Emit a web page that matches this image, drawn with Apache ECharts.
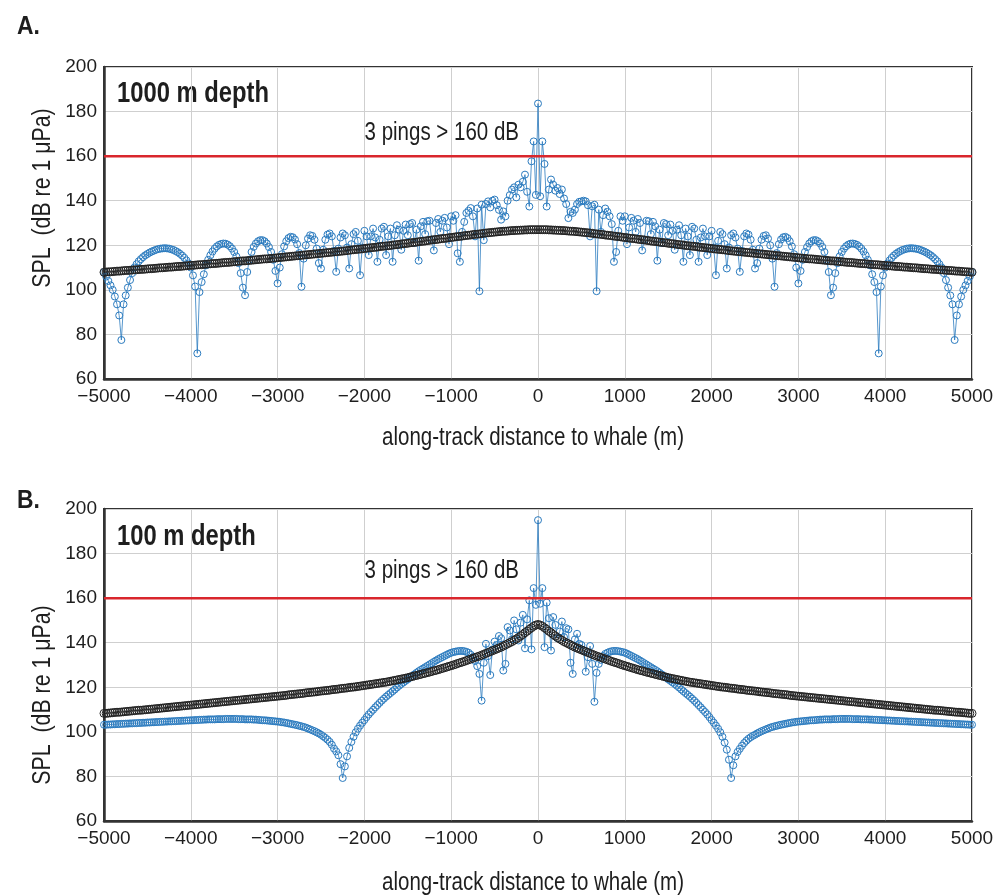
<!DOCTYPE html>
<html>
<head>
<meta charset="utf-8">
<script src="https://cdn.jsdelivr.net/npm/echarts@6/dist/echarts.min.js"></script>
<style>
  html, body { margin: 0; padding: 0; background: #ffffff; }
  #chart { width: 1005px; height: 896px; }
</style>
</head>
<body>
<div id="chart"></div>
<script>
// Along-track ping positions (m): one ping every 25 m from -5000 to 5000
const PING_SPACING = 25;
const distance = [];
for (let i = 0; i <= 400; i++) distance.push(-5000 + PING_SPACING * i);

// Panel A: whale at 1000 m depth — received SPL per ping (dB re 1 uPa)
const splA_blue = [
  108.0,106.0,104.0,102.0,100.0,97.0,93.5,88.5,77.5,93.5,97.5,101.0,104.4,107.5,110.0,111.5,112.8,113.8,114.7,115.5,
  116.1,116.7,117.2,117.6,118.0,118.3,118.5,118.6,118.7,118.6,118.5,118.2,117.9,117.4,116.9,116.2,115.4,114.4,113.2,111.8,
  110.0,106.5,101.5,71.5,99.0,103.5,107.0,111.0,113.5,115.5,117.2,118.5,119.5,120.2,120.6,120.8,120.7,120.3,119.6,118.5,
  117.0,115.0,112.0,107.5,101.0,97.6,108.0,113.5,117.0,119.3,120.8,121.8,122.3,122.3,121.8,120.8,119.2,117.0,113.5,108.5,
  102.9,110.0,116.0,119.5,121.8,123.2,123.8,123.6,122.6,120.5,116.5,101.4,114.0,120.0,123.0,124.5,124.2,122.5,118.5,112.0,
  109.6,118.0,122.5,124.8,125.3,124.0,117.5,108.1,118.5,123.5,125.3,124.5,119.0,109.6,120.5,125.0,126.0,122.0,106.6,119.0,
  126.5,124.0,115.6,124.0,127.5,123.5,112.6,122.5,127.5,128.3,115.6,124.0,127.5,112.6,124.5,129.0,127.0,118.0,126.5,129.3,
  124.5,129.5,130.0,121.0,127.0,113.1,128.5,130.5,125.0,130.8,131.0,122.5,117.7,130.0,131.8,126.0,131.0,132.3,128.0,120.5,
  133.0,131.0,133.5,116.4,112.6,126.0,130.5,134.5,135.5,136.7,133.0,124.0,136.5,99.4,138.2,122.3,138.5,139.7,137.0,140.0,
  140.5,138.0,135.9,131.5,135.2,133.0,140.0,142.5,145.0,146.0,141.5,147.2,146.0,148.5,151.7,144.0,137.4,157.7,166.6,142.6,
  183.6,
  142.0,166.6,156.5,137.4,145.0,149.5,147.2,144.5,145.7,143.0,145.0,141.0,138.5,132.2,135.0,134.5,136.0,138.5,139.5,139.7,
  140.0,139.7,138.0,124.0,137.5,138.2,99.4,136.0,126.0,133.5,136.5,135.0,133.0,129.5,112.6,117.0,126.5,133.0,131.0,133.0,
  120.5,128.0,132.3,131.0,126.0,131.8,130.0,117.7,122.5,131.0,130.8,125.0,130.5,128.5,113.1,127.0,121.0,130.0,129.5,124.5,
  129.3,126.5,118.0,127.0,129.0,124.5,112.6,127.5,124.0,115.6,128.3,127.5,122.5,112.6,123.5,127.5,124.0,115.6,124.0,126.5,
  119.0,106.6,122.0,126.0,125.0,120.5,109.6,119.0,124.5,125.3,123.5,118.5,108.1,117.5,124.0,125.3,124.8,122.5,118.0,109.6,
  112.0,118.5,122.5,124.2,124.5,123.0,120.0,114.0,101.4,116.5,120.5,122.6,123.6,123.8,123.2,121.8,119.5,116.0,110.0,102.9,
  108.5,113.5,117.0,119.2,120.8,121.8,122.3,122.3,121.8,120.8,119.3,117.0,113.5,108.0,97.6,101.0,107.5,112.0,115.0,117.0,
  118.5,119.6,120.3,120.7,120.8,120.6,120.2,119.5,118.5,117.2,115.5,113.5,111.0,107.0,103.5,99.0,71.5,101.5,106.5,110.0,
  111.8,113.2,114.4,115.4,116.2,116.9,117.4,117.9,118.2,118.5,118.6,118.7,118.6,118.5,118.3,118.0,117.6,117.2,116.7,116.1,
  115.5,114.7,113.8,112.8,111.5,110.0,107.5,104.4,101.0,97.5,93.5,77.5,88.5,93.5,97.0,100.0,102.0,104.0,106.0,108.0
];
const splA_black = [
  107.9,108.0,108.1,108.1,108.2,108.3,108.4,108.4,108.5,108.6,108.7,108.7,108.8,108.9,109.0,109.0,109.1,109.2,109.2,109.3,
  109.4,109.5,109.5,109.6,109.7,109.8,109.9,109.9,110.0,110.1,110.2,110.2,110.3,110.4,110.5,110.5,110.6,110.7,110.8,110.9,
  111.0,111.0,111.1,111.2,111.3,111.3,111.4,111.5,111.6,111.7,111.8,111.8,111.9,112.0,112.1,112.2,112.3,112.3,112.4,112.5,
  112.6,112.7,112.8,112.9,113.0,113.0,113.1,113.2,113.3,113.4,113.5,113.6,113.7,113.8,113.9,113.9,114.0,114.1,114.2,114.3,
  114.4,114.5,114.6,114.7,114.8,114.9,115.0,115.1,115.2,115.3,115.4,115.5,115.6,115.7,115.8,115.9,116.0,116.1,116.2,116.3,
  116.4,116.5,116.6,116.7,116.8,116.9,117.0,117.1,117.2,117.3,117.4,117.5,117.6,117.8,117.9,118.0,118.1,118.2,118.3,118.4,
  118.5,118.7,118.8,118.9,119.0,119.1,119.2,119.4,119.5,119.6,119.7,119.8,119.9,120.1,120.2,120.3,120.4,120.6,120.7,120.8,
  120.9,121.1,121.2,121.3,121.4,121.6,121.7,121.8,121.9,122.1,122.2,122.4,122.5,122.6,122.7,122.9,123.0,123.1,123.2,123.4,
  123.5,123.6,123.8,123.9,124.0,124.1,124.3,124.4,124.5,124.6,124.8,124.9,125.0,125.1,125.2,125.4,125.5,125.6,125.7,125.8,
  125.9,126.0,126.1,126.2,126.3,126.3,126.4,126.5,126.6,126.6,126.7,126.7,126.8,126.8,126.9,126.9,127.0,127.0,127.0,127.0,
  127.0,
  127.0,127.0,127.0,127.0,126.9,126.9,126.8,126.8,126.7,126.7,126.6,126.6,126.5,126.4,126.3,126.3,126.2,126.1,126.0,125.9,
  125.8,125.7,125.6,125.5,125.4,125.2,125.1,125.0,124.9,124.8,124.6,124.5,124.4,124.3,124.1,124.0,123.9,123.8,123.6,123.5,
  123.4,123.2,123.1,123.0,122.9,122.7,122.6,122.5,122.4,122.2,122.1,121.9,121.8,121.7,121.6,121.4,121.3,121.2,121.1,120.9,
  120.8,120.7,120.6,120.4,120.3,120.2,120.1,119.9,119.8,119.7,119.6,119.5,119.4,119.2,119.1,119.0,118.9,118.8,118.7,118.5,
  118.4,118.3,118.2,118.1,118.0,117.9,117.8,117.6,117.5,117.4,117.3,117.2,117.1,117.0,116.9,116.8,116.7,116.6,116.5,116.4,
  116.3,116.2,116.1,116.0,115.9,115.8,115.7,115.6,115.5,115.4,115.3,115.2,115.1,115.0,114.9,114.8,114.7,114.6,114.5,114.4,
  114.3,114.2,114.1,114.0,113.9,113.9,113.8,113.7,113.6,113.5,113.4,113.3,113.2,113.1,113.0,113.0,112.9,112.8,112.7,112.6,
  112.5,112.4,112.3,112.3,112.2,112.1,112.0,111.9,111.8,111.8,111.7,111.6,111.5,111.4,111.3,111.3,111.2,111.1,111.0,111.0,
  110.9,110.8,110.7,110.6,110.5,110.5,110.4,110.3,110.2,110.2,110.1,110.0,109.9,109.9,109.8,109.7,109.6,109.5,109.5,109.4,
  109.3,109.2,109.2,109.1,109.0,109.0,108.9,108.8,108.7,108.7,108.6,108.5,108.4,108.4,108.3,108.2,108.1,108.1,108.0,107.9
];

// Panel B: whale at 100 m depth
const splB_blue = [
  103.2,103.2,103.3,103.3,103.4,103.4,103.5,103.5,103.6,103.6,103.7,103.7,103.8,103.8,103.9,103.9,104.0,104.0,104.1,104.1,
  104.2,104.2,104.3,104.3,104.4,104.4,104.5,104.5,104.6,104.6,104.7,104.7,104.8,104.8,104.9,104.9,105.0,105.0,105.1,105.1,
  105.2,105.2,105.3,105.3,105.4,105.4,105.5,105.5,105.6,105.6,105.6,105.6,105.7,105.7,105.7,105.7,105.8,105.8,105.8,105.8,
  105.8,105.8,105.7,105.7,105.7,105.6,105.6,105.6,105.6,105.5,105.5,105.4,105.3,105.2,105.2,105.1,105.0,104.9,104.8,104.7,
  104.6,104.5,104.3,104.2,104.0,103.8,103.6,103.4,103.2,103.0,102.7,102.5,102.2,101.9,101.5,101.1,100.7,100.3,99.8,99.3,
  98.7,98.0,97.3,96.5,95.5,94.2,92.5,91.2,89.5,85.5,79.3,84.5,89.0,92.8,95.5,97.8,99.8,101.4,102.8,104.1,
  105.3,106.6,107.8,108.9,109.9,111.0,112.0,113.0,114.0,114.9,115.8,116.6,117.4,118.2,119.0,119.9,120.7,121.5,122.2,122.9,
  123.6,124.3,125.0,125.8,126.5,127.2,127.8,128.4,129.0,129.6,130.2,130.8,131.4,132.0,132.6,133.1,133.6,134.1,134.6,135.1,
  135.5,135.8,136.0,136.2,136.3,136.3,136.2,135.9,135.5,134.6,133.5,131.8,129.5,126.0,114.0,131.0,139.5,134.0,125.5,137.0,
  140.5,139.0,143.0,142.0,127.5,130.5,147.0,145.5,141.5,150.0,146.0,141.0,149.0,152.5,137.5,150.5,159.0,137.0,164.5,157.0,
  195.0,
  157.5,164.5,138.0,158.0,151.0,136.5,151.5,148.0,142.0,145.0,149.5,142.5,146.5,146.0,131.0,126.0,141.5,144.0,139.5,139.0,
  136.5,127.0,133.5,138.5,130.5,113.5,126.5,130.5,132.3,134.0,135.0,135.5,135.9,136.2,136.3,136.3,136.2,136.0,135.8,135.5,
  135.1,134.6,134.1,133.6,133.1,132.6,132.0,131.4,130.8,130.2,129.6,129.0,128.4,127.8,127.2,126.5,125.8,125.0,124.3,123.6,
  122.9,122.2,121.5,120.7,119.9,119.0,118.2,117.4,116.6,115.8,114.9,114.0,113.0,112.0,111.0,109.9,108.9,107.8,106.6,105.3,
  104.1,102.8,101.4,99.8,97.8,95.2,92.0,87.5,79.3,85.0,89.0,91.0,92.4,93.8,95.0,96.0,96.9,97.6,98.2,98.7,
  99.3,99.8,100.3,100.7,101.1,101.5,101.9,102.2,102.5,102.7,103.0,103.2,103.4,103.6,103.8,104.0,104.2,104.3,104.5,104.6,
  104.7,104.8,104.9,105.0,105.1,105.2,105.2,105.3,105.4,105.5,105.5,105.6,105.6,105.6,105.6,105.7,105.7,105.7,105.8,105.8,
  105.8,105.8,105.8,105.8,105.7,105.7,105.7,105.7,105.6,105.6,105.6,105.6,105.5,105.5,105.4,105.4,105.3,105.3,105.2,105.2,
  105.1,105.1,105.0,105.0,104.9,104.9,104.8,104.8,104.7,104.7,104.6,104.6,104.5,104.5,104.4,104.4,104.3,104.3,104.2,104.2,
  104.1,104.1,104.0,104.0,103.9,103.9,103.8,103.8,103.7,103.7,103.6,103.6,103.5,103.5,103.4,103.4,103.3,103.3,103.2,103.2
];
const splB_black = [
  108.3,108.3,108.4,108.5,108.6,108.7,108.8,108.8,108.9,109.0,109.1,109.2,109.3,109.4,109.5,109.6,109.7,109.7,109.8,109.9,
  110.0,110.1,110.2,110.3,110.4,110.5,110.6,110.7,110.8,110.9,111.0,111.1,111.2,111.3,111.4,111.5,111.6,111.7,111.8,111.9,
  112.0,112.1,112.2,112.3,112.4,112.5,112.6,112.7,112.8,112.9,113.0,113.1,113.2,113.3,113.4,113.5,113.6,113.7,113.8,113.9,
  114.0,114.1,114.2,114.3,114.4,114.5,114.6,114.7,114.8,114.9,115.0,115.1,115.2,115.3,115.4,115.5,115.6,115.7,115.8,115.9,
  116.0,116.1,116.2,116.3,116.4,116.6,116.7,116.8,116.9,117.0,117.1,117.2,117.3,117.5,117.6,117.7,117.8,117.9,118.0,118.2,
  118.3,118.4,118.5,118.6,118.7,118.9,119.0,119.1,119.2,119.4,119.5,119.6,119.7,119.9,120.0,120.1,120.2,120.4,120.5,120.7,
  120.8,121.0,121.1,121.3,121.4,121.6,121.7,121.9,122.0,122.2,122.3,122.5,122.7,122.9,123.1,123.3,123.5,123.7,123.9,124.1,
  124.3,124.6,124.8,125.1,125.3,125.6,125.8,126.1,126.3,126.6,126.8,127.1,127.4,127.6,127.9,128.2,128.5,128.8,129.1,129.4,
  129.7,130.0,130.3,130.7,131.0,131.3,131.6,132.0,132.3,132.7,133.0,133.4,133.7,134.0,134.4,134.8,135.2,135.6,136.0,136.4,
  136.8,137.2,137.6,138.0,138.5,139.0,139.5,140.0,140.5,141.1,141.7,142.3,143.0,143.7,144.5,145.2,146.0,146.7,147.4,147.9,
  148.2,
  147.9,147.4,146.7,146.0,145.2,144.5,143.7,143.0,142.3,141.7,141.1,140.5,140.0,139.5,139.0,138.5,138.0,137.6,137.2,136.8,
  136.4,136.0,135.6,135.2,134.8,134.4,134.0,133.7,133.4,133.0,132.7,132.3,132.0,131.6,131.3,131.0,130.7,130.3,130.0,129.7,
  129.4,129.1,128.8,128.5,128.2,127.9,127.6,127.4,127.1,126.8,126.6,126.3,126.1,125.8,125.6,125.3,125.1,124.8,124.6,124.3,
  124.1,123.9,123.7,123.5,123.3,123.1,122.9,122.7,122.5,122.3,122.2,122.0,121.9,121.7,121.6,121.4,121.3,121.1,121.0,120.8,
  120.7,120.5,120.4,120.2,120.1,120.0,119.9,119.7,119.6,119.5,119.4,119.2,119.1,119.0,118.9,118.7,118.6,118.5,118.4,118.3,
  118.2,118.0,117.9,117.8,117.7,117.6,117.5,117.3,117.2,117.1,117.0,116.9,116.8,116.7,116.6,116.4,116.3,116.2,116.1,116.0,
  115.9,115.8,115.7,115.6,115.5,115.4,115.3,115.2,115.1,115.0,114.9,114.8,114.7,114.6,114.5,114.4,114.3,114.2,114.1,114.0,
  113.9,113.8,113.7,113.6,113.5,113.4,113.3,113.2,113.1,113.0,112.9,112.8,112.7,112.6,112.5,112.4,112.3,112.2,112.1,112.0,
  111.9,111.8,111.7,111.6,111.5,111.4,111.3,111.2,111.1,111.0,110.9,110.8,110.7,110.6,110.5,110.4,110.3,110.2,110.1,110.0,
  109.9,109.8,109.7,109.7,109.6,109.5,109.4,109.3,109.2,109.1,109.0,108.9,108.8,108.8,108.7,108.6,108.5,108.4,108.3,108.3
];

// Exposure threshold (dB re 1 uPa)
const THRESHOLD_DB = [160];

const xTicks = { min: -5000, max: 5000, step: 1000 };
const yTicks = { min: 60, max: 200, step: 20 };

const panels = [
  { tag: 'A.', depth: '1000 m depth', note: '3 pings > 160 dB', blue: splA_blue, black: splA_black },
  { tag: 'B.', depth: '100 m depth',  note: '3 pings > 160 dB', blue: splB_blue, black: splB_black }
];

const SANS = "'Liberation Sans', Arial, Helvetica, sans-serif";
const NARROW = 0.82;           // horizontal squeeze for a narrow-face look
const BLUE = '#2b7bbf';
const DARK = '#222222';
const RED = '#d9262c';
const TXT = '#1e1e1e';

const layout = [
  { top: 67,  tagY: 27,  depthY: 94,  noteY: 133, yTitleY: 198, xTitleY: 438 },
  { top: 509, tagY: 501, depthY: 537, noteY: 571, yTitleY: 695, xTitleY: 883 }
];
const GRID_LEFT = 104, GRID_W = 868, GRID_H = 312;

const pair = (ys) => distance.map((x, i) => [x, ys[i]]);
const narrowText = (x, y, text, font, align, extra) => Object.assign({
  type: 'text', x, y, scaleX: NARROW, silent: true,
  style: { text, fill: TXT, font, align, verticalAlign: 'middle' }
}, extra || {});

const grid = [], xAxis = [], yAxis = [], series = [], graphic = [];

panels.forEach((p, k) => {
  const L = layout[k];
  grid.push({ left: GRID_LEFT, top: L.top, width: GRID_W, height: GRID_H,
              show: true, borderColor: '#333', borderWidth: 2, backgroundColor: '#fff' });
  xAxis.push({
    type: 'value', gridIndex: k, min: xTicks.min, max: xTicks.max, interval: xTicks.step,
    axisLine: { show: true, onZero: false, lineStyle: { color: '#333', width: 2.5 } },
    axisTick: { show: false },
    axisLabel: { color: TXT, fontFamily: SANS, fontSize: 19, margin: 8,
                 formatter: v => String(v).replace('-', '\u2212') },
    splitLine: { show: true, lineStyle: { color: '#cfcfcf', width: 1 } }
  });
  yAxis.push({
    type: 'value', gridIndex: k, min: yTicks.min, max: yTicks.max, interval: yTicks.step,
    axisLine: { show: true, onZero: false, lineStyle: { color: '#333', width: 2.5 } },
    axisTick: { show: false },
    axisLabel: { color: TXT, fontFamily: SANS, fontSize: 19, margin: 7 },
    splitLine: { show: true, lineStyle: { color: '#cfcfcf', width: 1 } }
  });
  series.push({
    type: 'line', xAxisIndex: k, yAxisIndex: k, data: pair(p.blue),
    symbol: 'circle', symbolSize: 7, showSymbol: true,
    itemStyle: { color: 'rgba(255,255,255,0)', borderColor: BLUE, borderWidth: 1 },
    lineStyle: { color: BLUE, width: 0.8 }, z: 3, animation: false, silent: true
  });
  series.push({
    type: 'line', xAxisIndex: k, yAxisIndex: k,
    data: [[xTicks.min, THRESHOLD_DB[0]], [xTicks.max, THRESHOLD_DB[0]]],
    symbol: 'none', lineStyle: { color: RED, width: 2.5 }, z: 4, animation: false, silent: true
  });
  series.push({
    type: 'line', xAxisIndex: k, yAxisIndex: k, data: pair(p.black),
    symbol: 'circle', symbolSize: 8, showSymbol: true,
    itemStyle: { color: 'rgba(255,255,255,0)', borderColor: DARK, borderWidth: 1 },
    lineStyle: { color: DARK, width: 1 }, z: 5, animation: false, silent: true
  });

  graphic.push({ type: 'text', x: 17, y: L.tagY, scaleX: 0.88, silent: true,
    style: { text: p.tag, fill: TXT, font: 'bold 26px ' + SANS, verticalAlign: 'middle' } });
  graphic.push(narrowText(117, L.depthY, p.depth, 'bold 29px ' + SANS, 'left'));
  graphic.push(narrowText(519, L.noteY, p.note, '25px ' + SANS, 'right'));
  graphic.push(narrowText(533, L.xTitleY, 'along-track distance to whale (m)', '25px ' + SANS, 'center'));
  graphic.push(narrowText(43, L.yTitleY, 'SPL  (dB re 1 \u03bcPa)', '26px ' + SANS, 'center',
    { rotation: Math.PI / 2 }));
});

const chart = echarts.init(document.getElementById('chart'), null, { renderer: 'canvas' });
chart.setOption({ animation: false, grid, xAxis, yAxis, series, graphic });
</script>
</body>
</html>
